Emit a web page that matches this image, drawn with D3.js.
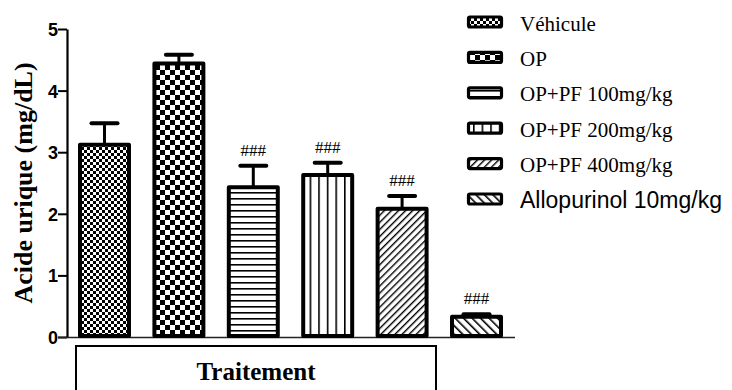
<!DOCTYPE html>
<html>
<head>
<meta charset="utf-8">
<script src="https://cdn.jsdelivr.net/npm/d3@7"></script>
<style>
  html, body { margin: 0; padding: 0; background: #fff; }
  svg { display: block; }
</style>
</head>
<body>
<svg id="chart" width="732" height="390"></svg>
<script>
// Groups, means and SEM (uric acid, mg/dL)
const groups = ["Véhicule", "OP", "OP+PF 100mg/kg", "OP+PF 200mg/kg", "OP+PF 400mg/kg", "Allopurinol 10mg/kg"];
const means = [3.12, 4.44, 2.43, 2.63, 2.08, 0.33];
const sems = [0.35, 0.14, 0.35, 0.20, 0.21, 0.04];
const signif = ["", "", "###", "###", "###", "###"];
const yTicks = [0, 1, 2, 3, 4, 5];
const patternIds = ["pChkFine", "pChkBig", "pHoriz", "pVert", "pDiagR", "pDiagL"];

const svg = d3.select("#chart");
const serif = "'Liberation Serif', 'Times New Roman', serif";
const sans = "'Liberation Sans', Arial, sans-serif";

// Fill patterns
const defs = svg.append("defs");
function pattern(id, w, h) {
  const p = defs.append("pattern").attr("id", id)
    .attr("patternUnits", "userSpaceOnUse").attr("width", w).attr("height", h);
  p.append("rect").attr("width", w).attr("height", h).attr("fill", "#fff");
  return p;
}
let p = pattern("pChkFine", 6, 6);
p.append("rect").attr("x", 0).attr("y", 0).attr("width", 3).attr("height", 3).attr("fill", "#000");
p.append("rect").attr("x", 3).attr("y", 3).attr("width", 3).attr("height", 3).attr("fill", "#000");
p = pattern("pChkBig", 10, 10);
p.append("rect").attr("x", 0).attr("y", 0).attr("width", 5).attr("height", 5).attr("fill", "#000");
p.append("rect").attr("x", 5).attr("y", 5).attr("width", 5).attr("height", 5).attr("fill", "#000");
p = pattern("pHoriz", 8, 6);
p.append("rect").attr("x", 0).attr("y", 0).attr("width", 8).attr("height", 1.6).attr("fill", "#000");
p = pattern("pVert", 8.6, 8);
p.append("rect").attr("x", 0).attr("y", 0).attr("width", 1.6).attr("height", 8).attr("fill", "#000");
p = pattern("pDiagR", 5, 5);
p.attr("patternTransform", "rotate(45)");
p.append("rect").attr("x", 0).attr("y", 0).attr("width", 1.4).attr("height", 5).attr("fill", "#000");
p = pattern("pDiagL", 6, 6);
p.attr("patternTransform", "rotate(-45)");
p.append("rect").attr("x", 0).attr("y", 0).attr("width", 1.6).attr("height", 6).attr("fill", "#000");

// Scales
const y = d3.scaleLinear().domain([0, 5]).range([337, 29]);
const x = d3.scaleBand().domain(groups).range([67, 514]).paddingInner(0.288).paddingOuter(0.148);
const bw = 4; // bar outline width

// Y axis
const yAxis = svg.append("g").attr("transform", "translate(67,0)")
  .call(d3.axisLeft(y).tickValues(yTicks).tickFormat(d3.format("d")).tickSize(9).tickSizeOuter(0));
yAxis.select(".domain").attr("stroke", "#000").attr("stroke-width", 2.2);
yAxis.selectAll(".tick line").attr("stroke", "#000").attr("stroke-width", 2);
yAxis.selectAll(".tick text").attr("font-family", sans).attr("font-weight", "bold")
  .attr("font-size", 18).attr("fill", "#000").attr("x", -9).attr("dy", "0.36em");

// Baseline
svg.append("line").attr("x1", 58).attr("x2", 515).attr("y1", y(0) + 0.5).attr("y2", y(0) + 0.5)
  .attr("stroke", "#222").attr("stroke-width", 1.6);

// Error bars (upper only)
const eb = svg.append("g").attr("stroke", "#000").attr("stroke-linecap", "round");
groups.forEach((g, i) => {
  const cx = x(g) + x.bandwidth() / 2;
  eb.append("line").attr("x1", cx).attr("x2", cx).attr("y1", y(means[i])).attr("y2", y(means[i] + sems[i]))
    .attr("stroke-width", 3);
  eb.append("line").attr("x1", cx - 13).attr("x2", cx + 13)
    .attr("y1", y(means[i] + sems[i])).attr("y2", y(means[i] + sems[i]))
    .attr("stroke-width", 4);
});

// Bars
svg.append("g").selectAll("rect").data(groups).join("rect")
  .attr("x", d => x(d) + bw / 2)
  .attr("width", x.bandwidth() - bw)
  .attr("y", (d, i) => y(means[i]))
  .attr("height", (d, i) => y(0) - y(means[i]) - bw / 2 + 1)
  .attr("fill", (d, i) => `url(#${patternIds[i]})`)
  .attr("stroke", "#000").attr("stroke-width", bw).attr("stroke-linejoin", "round");

// Significance marks
svg.append("g").selectAll("text").data(groups).join("text")
  .attr("x", d => x(d) + x.bandwidth() / 2)
  .attr("y", (d, i) => y(means[i] + sems[i]) - 10)
  .attr("text-anchor", "middle")
  .attr("font-family", serif).attr("font-size", 17).attr("fill", "#000")
  .text((d, i) => signif[i]);

// Y axis title
svg.append("text")
  .attr("transform", "translate(32,183) rotate(-90)")
  .attr("text-anchor", "middle")
  .attr("font-family", serif).attr("font-weight", "bold").attr("font-size", 26).attr("fill", "#000")
  .text("Acide urique (mg/dL)");

// X axis group box
svg.append("rect").attr("x", 76).attr("y", 346).attr("width", 360).attr("height", 60)
  .attr("fill", "none").attr("stroke", "#000").attr("stroke-width", 2);
svg.append("text").attr("x", 256).attr("y", 380).attr("text-anchor", "middle")
  .attr("font-family", serif).attr("font-weight", "bold").attr("font-size", 25).attr("fill", "#000")
  .text("Traitement");

// Legend
const legend = svg.append("g");
groups.forEach((g, i) => {
  const cy = 22 + i * 35.4;
  legend.append("rect").attr("x", 468.5).attr("y", cy - 5).attr("width", 33).attr("height", 10)
    .attr("rx", 1.5).attr("fill", `url(#${patternIds[i]})`)
    .attr("stroke", "#000").attr("stroke-width", 3.2);
  const isLast = i === groups.length - 1;
  legend.append("text").attr("x", 520).attr("y", cy + (isLast ? 8.5 : 8.5))
    .attr("font-family", isLast ? sans : serif)
    .attr("font-size", isLast ? 23 : 21).attr("fill", "#000")
    .text(g);
});
</script>
</body>
</html>
